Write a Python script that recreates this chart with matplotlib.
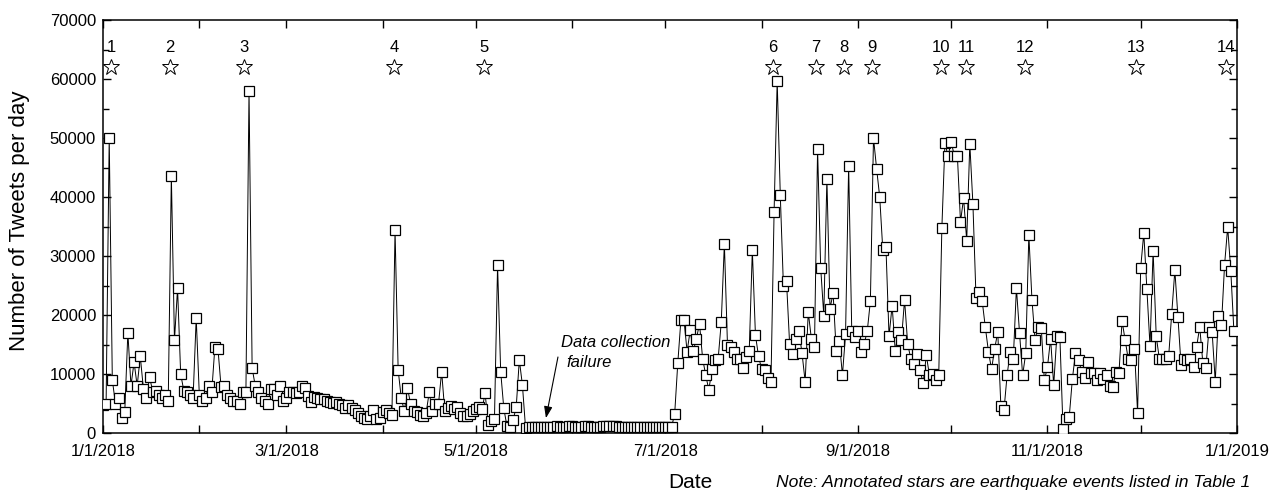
import matplotlib
matplotlib.use("Agg")
import matplotlib.pyplot as plt
import pandas as pd

plt.rcParams['font.family'] = ['Liberation Sans', 'DejaVu Sans']

# ---- daily tweet counts, one list per month of 2018 ----
jan = [4800, 4900, 50000, 9000, 5000, 6000, 2500, 3500, 17000, 8000, 12000, 8000, 13000,
       7500, 6000, 9500, 7000, 7200, 6500, 6000, 6500, 5500, 43600, 15700, 24500, 10000,
       7200, 7000, 6500, 6000, 19500]
feb = [6500, 5500, 6000, 8000, 7000, 14500, 14300, 7800, 8000, 6500, 6000, 5500, 5500,
       5000, 7000, 7000, 58000, 11000, 8000, 7000, 6000, 5500, 5000, 7500, 7500, 6500,
       8000, 5500]
mar = [6000, 6900, 7000, 6800, 7000, 7900, 7600, 6300, 5300, 6100, 6000, 5700, 5800,
       5500, 5300, 5100, 5200, 5000, 4700, 4200, 4800, 4200, 3900, 3400, 2900, 2600,
       2400, 2800, 3900, 2400, 2600]
apr = [3500, 3900, 3400, 3100, 34400, 10700, 5900, 3700, 7600, 5000, 3700, 3600, 3100,
       2900, 3400, 6900, 3700, 4900, 5000, 10400, 3700, 4200, 4500, 4000, 4400, 3400,
       2800, 2800, 3300, 3700]
may = [4000, 4400, 4100, 6700, 1400, 2000, 2400, 28400, 10400, 4200, 1200, 1100, 2200,
       4400, 12400, 8100, 900, 950, 1000, 1000, 1050, 1000, 1100, 1050, 1000, 1100,
       1150, 1100, 1050, 1100, 1200]
jun = [1150, 1100, 1050, 1100, 1150, 1200, 1100, 1050, 1000, 1100, 1150, 1200, 1250,
       1200, 1150, 1100, 1050, 1100, 1050, 1000, 1050, 1100, 1050, 1000, 1050, 1100,
       1050, 1000, 1050, 1100]
jul = [1050, 1000, 1050, 3200, 11800, 19100, 19200, 13800, 17400, 13900, 16000, 18500,
       12600, 9800, 7300, 10800, 12400, 12600, 18800, 32100, 14900, 14500, 13800, 12500,
       12500, 11000, 12800, 13900, 31000, 16600, 13000]
aug = [10800, 10600, 9400, 8700, 37400, 59700, 40300, 25000, 25700, 15100, 13400, 16000,
       17300, 13500, 8700, 20500, 16000, 14500, 48100, 28000, 19900, 43100, 21100, 23700,
       13900, 15600, 9800, 16700, 45300, 17300, 16300]
sep = [17300, 13800, 15100, 17300, 22400, 50000, 44800, 40000, 31000, 31600, 16400,
       21600, 13900, 17100, 15800, 22600, 15100, 12600, 11700, 13400, 10600, 8400, 13200,
       9800, 10000, 9000, 9800, 34700, 49200, 46900]
oct_ = [49400, 47000, 47000, 35800, 39800, 32600, 49000, 38800, 22900, 23900, 22300,
        17900, 13800, 10800, 14300, 17100, 4500, 3900, 9800, 13800, 12600, 24600, 17000,
        9800, 13500, 33600, 22600, 15800, 18000, 17800, 8900]
nov = [11200, 16000, 8100, 16400, 16200, 700, 2400, 2700, 9100, 13500, 12400, 10400, 9300,
       12100, 10200, 10100, 9000, 10100, 9100, 9800, 8000, 7800, 10400, 10100, 19000,
       15800, 12500, 12400, 14300, 3400]
dec = [28000, 33900, 24400, 14700, 30900, 16400, 12600, 12600, 12500, 13000, 20200, 27600,
       19600, 11500, 12500, 12400, 12500, 11200, 14600, 18000, 11900, 11100, 17900, 17100,
       8700, 19900, 18300, 28500, 34900, 27500, 17300]

start_date = "2018-01-01"

# ---- annotated earthquake events ----
event_labels = [str(i) for i in range(1, 15)]
event_times = ["2018-01-03 14:00", "2018-01-22 14:00", "2018-02-15 10:00",
               "2018-04-04 17:00", "2018-05-03 14:00", "2018-08-04 14:00",
               "2018-08-18 12:00", "2018-08-27 12:00", "2018-09-05 12:00",
               "2018-09-27 17:00", "2018-10-05 19:00", "2018-10-24 17:00",
               "2018-11-29 12:00", "2018-12-28 14:00"]
star_level = 62000
label_level = 65300

x_ticks = pd.date_range("2018-01-01", "2019-01-01", freq="MS")
x_tick_labels = ["1/1/2018", "", "3/1/2018", "", "5/1/2018", "", "7/1/2018", "",
                 "9/1/2018", "", "11/1/2018", "", "1/1/2019"]
y_ticks = list(range(0, 70001, 10000))

# ---- build ----
values = jan + feb + mar + apr + may + jun + jul + aug + sep + oct_ + nov + dec
dates = pd.date_range(start_date, periods=len(values), freq="D")

fig = plt.figure(figsize=(12.8, 4.92), dpi=100)
ax = fig.add_axes([103 / 1280, 59 / 492, 1134 / 1280, 413 / 492])

ax.plot(dates, values, color="black", lw=0.7, marker="s", ms=6.6,
        mfc="white", mec="black", mew=0.9, zorder=3)

ev = pd.to_datetime(event_times)
ax.plot(ev, [star_level] * len(ev), ls="none", marker="*", ms=12,
        mfc="white", mec="black", mew=0.7, zorder=4)
for t, lab in zip(ev, event_labels):
    ax.text(t, label_level, lab, ha="center", va="center", fontsize=12)

ax.set_xlim(pd.Timestamp("2018-01-01"), pd.Timestamp("2019-01-01"))
ax.set_ylim(0, 70000)
ax.set_xticks(x_ticks)
ax.set_xticklabels(x_tick_labels)
ax.set_yticks(y_ticks)
ax.set_yticks(list(range(5000, 70000, 10000)), minor=True)
ax.tick_params(axis="both", which="both", direction="in", top=True, right=True,
               labelsize=12, width=1.0)
ax.tick_params(axis="both", which="major", length=6)
ax.tick_params(axis="both", which="minor", length=4)
ax.tick_params(axis="x", pad=8)
ax.tick_params(axis="y", pad=5)
for s in ax.spines.values():
    s.set_linewidth(1.1)

# Data collection failure annotation
ax.annotate("", xy=(0.3906, 0.036), xytext=(0.4012, 0.184),
            xycoords="axes fraction", textcoords="axes fraction",
            arrowprops=dict(arrowstyle="-|>,head_length=0.7,head_width=0.25",
                            color="black", lw=0.8, shrinkA=0, shrinkB=0))
ax.text(0.4039, 0.2203, "Data collection", transform=ax.transAxes, ha="left",
        va="center", fontsize=12, style="italic")
ax.text(0.4085, 0.1695, "failure", transform=ax.transAxes, ha="left",
        va="center", fontsize=12, style="italic")

fig.text(20 / 1280, 1 - 221 / 492, "Number of Tweets per day", rotation=90,
         ha="center", va="center", fontsize=16)
fig.text(690 / 1280, 1 - 483 / 492, "Date", ha="center", va="center", fontsize=15)
fig.text(776 / 1280, 1 - 483 / 492,
         "Note: Annotated stars are earthquake events listed in Table 1",
         ha="left", va="center", fontsize=12.6, style="italic")

fig.savefig("out.png", dpi=100)
